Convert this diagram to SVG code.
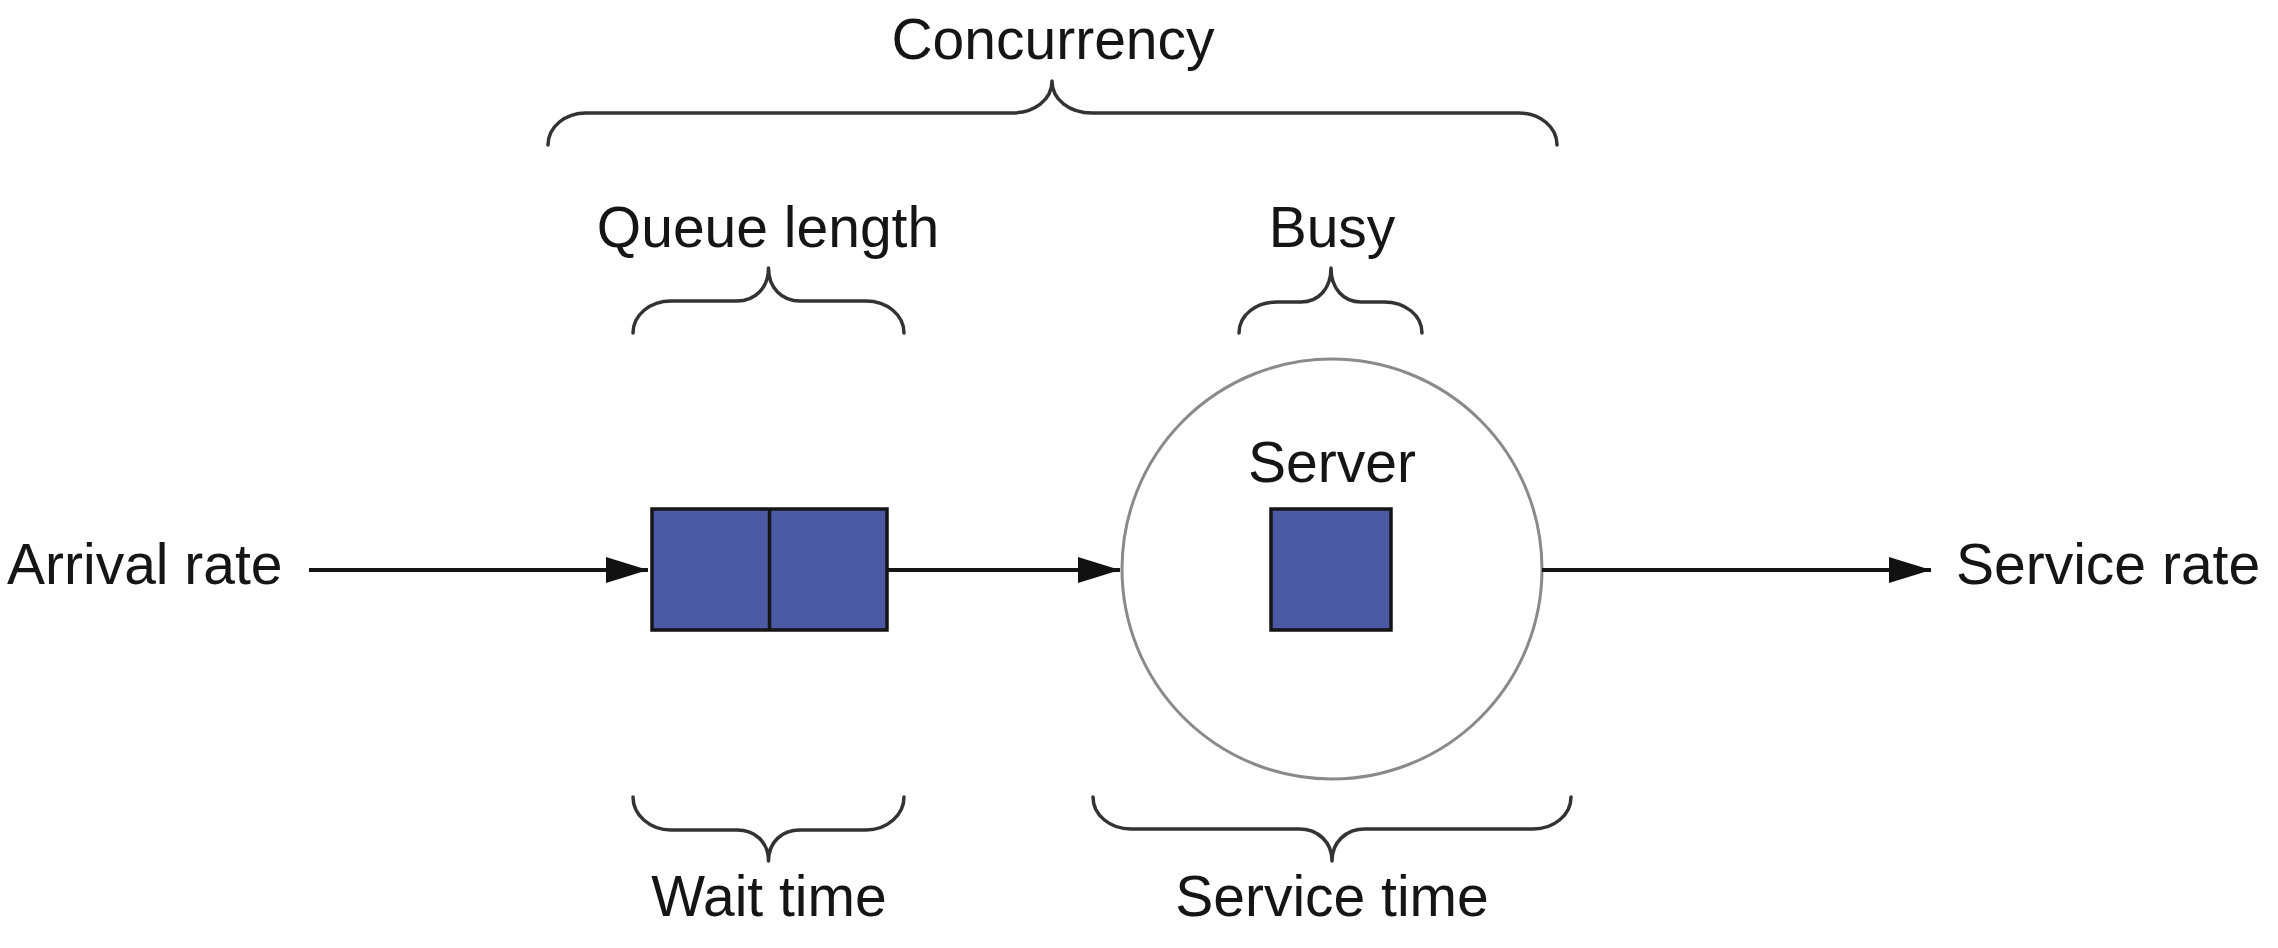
<svg xmlns="http://www.w3.org/2000/svg" width="2278" height="948" viewBox="0 0 2278 948">
<style>
  text { font-family: "Liberation Sans", Arial, Helvetica, sans-serif; font-size: 57px; fill: #151515; }
  .mid { text-anchor: middle; }
  .brace { fill: none; stroke: #333; stroke-width: 3.5; stroke-linecap: round; stroke-linejoin: round; }
  .block { fill: #4c5aa6; stroke: #151515; stroke-width: 3.5; }
  .edge { fill: none; stroke: #151515; stroke-width: 4; }
</style>
<defs>
  <marker id="arrow" markerUnits="userSpaceOnUse" markerWidth="44" markerHeight="28" refX="42" refY="14" orient="auto">
    <path d="M0,1 L42,14 L0,27 z" fill="#111"/>
  </marker>
</defs>
<rect width="2278" height="948" fill="#fff"/>

<g id="concurrency">
  <path class="brace" d="M548,145 C548,127 565,113 586,113 L1012,113 C1034,113 1052,100 1052,81 C1052,100 1070,113 1092,113 L1519,113 C1540,113 1557,127 1557,145"/>
  <text class="mid" x="1053" y="59">Concurrency</text>
</g>

<g id="queue-length">
  <path class="brace" d="M633,333 C633,315 650,301 671,301 L737,301 C755,301 768.5,288 768.5,268 C768.5,288 782,301 800,301 L866,301 C887,301 904,315 904,333"/>
  <text class="mid" x="768" y="247">Queue length</text>
</g>

<g id="busy">
  <path class="brace" d="M1239,333 C1239,315 1256,302 1277,302 L1301,302 C1319,302 1331,288 1331,268 C1331,288 1343,302 1361,302 L1384,302 C1405,302 1422,315 1422,333"/>
  <text class="mid" x="1332" y="247">Busy</text>
</g>

<g id="arrival">
  <text x="7" y="584">Arrival rate</text>
</g>

<g id="queue">
  <rect class="block" x="652" y="509" width="235" height="121"/>
  <line x1="769.5" y1="509" x2="769.5" y2="630" stroke="#151515" stroke-width="3.5"/>
</g>

<g id="server">
  <circle cx="1332" cy="569" r="210" fill="#fff" stroke="#8a8a8a" stroke-width="3"/>
  <text class="mid" x="1332" y="482">Server</text>
  <rect class="block" x="1271" y="509" width="120" height="121"/>
</g>

<g id="service-rate">
  <text x="1956" y="584">Service rate</text>
</g>

<g id="wait-time">
  <path class="brace" d="M633,797 C633,815 650,830 671,830 L737,830 C755,830 768.5,842 768.5,861 C768.5,842 782,830 800,830 L866,830 C887,830 904,815 904,797"/>
  <text class="mid" x="769" y="916">Wait time</text>
</g>

<g id="service-time">
  <path class="brace" d="M1093,797 C1093,815 1110,829 1131,829 L1299,829 C1318,829 1332,842 1332,861 C1332,842 1346,829 1365,829 L1533,829 C1554,829 1571,815 1571,797"/>
  <text class="mid" x="1332" y="916">Service time</text>
</g>

<g id="connectors">
  <line class="edge" x1="309" y1="570" x2="648" y2="570" marker-end="url(#arrow)"/>
  <line class="edge" x1="887" y1="570" x2="1120" y2="570" marker-end="url(#arrow)"/>
  <line class="edge" x1="1542" y1="570" x2="1931" y2="570" marker-end="url(#arrow)"/>
</g>
</svg>
